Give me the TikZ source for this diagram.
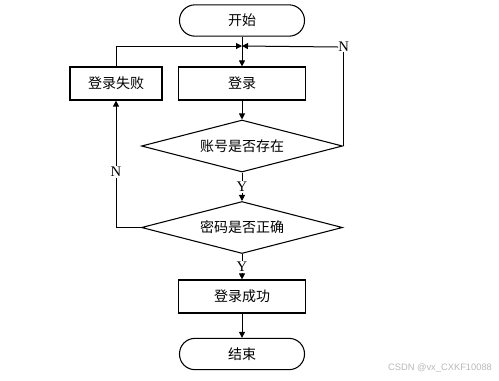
\documentclass[tikz,border=0pt]{standalone}
\usepackage{fontspec}
\setmainfont{Liberation Serif}
\newfontfamily\cjkfont{Noto Sans CJK SC}
\newfontfamily\markfont{Liberation Sans}
\usepackage{tikz}
\usetikzlibrary{arrows.meta,positioning,shapes.geometric}
\definecolor{loginInk}{HTML}{000000}

\begin{document}
\begin{tikzpicture}[x=0.75pt,y=-0.75pt,
    termbox/.style={draw=loginInk,line width=0.8pt,rounded corners=11.6pt,
      minimum width=93.75pt,minimum height=23.5pt,inner sep=0pt,
      font=\cjkfont\fontsize{10.5pt}{12pt}\selectfont},
    procbox/.style={draw=loginInk,line width=0.9pt,minimum width=95.25pt,
      minimum height=24.75pt,inner sep=0pt,
      font=\cjkfont\fontsize{10.5pt}{12pt}\selectfont},
    decide/.style={draw=loginInk,line width=0.8pt,diamond,aspect=3.9,inner sep=0pt,
      minimum width=150.75pt,minimum height=39pt,
      font=\cjkfont\fontsize{10.5pt}{12pt}\selectfont},
    yn/.style={fill=white,inner sep=1pt,font=\fontsize{11pt}{12pt}\selectfont},
    flowline/.style={draw=loginInk,line width=0.75pt,
      -{Triangle[length=4.5pt,width=4.5pt]}}]
  \useasboundingbox (0,0) rectangle (499,380);

  \node[termbox] (start) at (242,20.5) {开始};
  \node[procbox] (login) at (242,83.5) {登录};
  \node[procbox,minimum width=69pt] (fail) at (116,83.5) {登录失败};
  \node[decide] (acct) at (242,146) {账号是否存在};
  \node[decide] (pwd) at (242,227.5) {密码是否正确};
  \node[procbox] (ok) at (242,296.5) {登录成功};
  \node[termbox] (stop) at (242,354) {结束};
  \coordinate (join) at (242,46);
  \node[yn,anchor=west,inner sep=0pt] (nright) at (338,47) {N};

  % main path
  \draw[flowline] (start.south) -- (login.north);
  \draw[flowline] (login.south) -- (acct.north);
  \draw[flowline] (acct.south) -- node[yn] {Y} (pwd.north);
  \draw[flowline] (pwd.south) -- node[yn] {Y} (ok.north);
  \draw[flowline] (ok.south) -- (stop.north);

  % loops back to login
  \draw[line width=0.75pt] (acct.east) -- (acct.east |- nright.south);
  \draw[flowline] (nright.west) -- (join);
  \draw[flowline] (fail.north) |- (join);
  \draw[flowline] (pwd.west) -| node[yn,pos=0.72] {N} (fail.south);

  \node[font=\markfont\fontsize{7pt}{8pt}\selectfont,text=gray!55] (mark) at (440,368) {CSDN @vx\_CXKF10088};
\end{tikzpicture}
\end{document}
